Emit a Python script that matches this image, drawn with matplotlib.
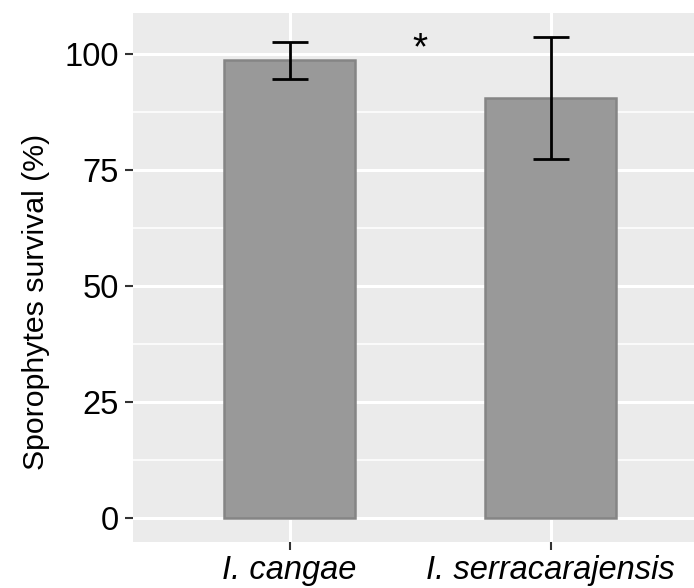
import matplotlib
matplotlib.use("Agg")
import matplotlib.pyplot as plt
import numpy as np

categories = ["I. cangae", "I. serracarajensis"]
means = [98.7, 90.6]
errors = [4.0, 13.15]
yticks = [0, 25, 50, 75, 100]
signif_label = "*"

plt.rcParams['font.family'] = ['Liberation Sans', 'DejaVu Sans']

fig = plt.figure(figsize=(6.94, 5.88), dpi=100)
W, H = 694, 588
left, right, top, bottom = 133, 694, 13, 542
ax = fig.add_axes([left / W, 1 - bottom / H, (right - left) / W, (bottom - top) / H])
ax.set_facecolor("#EBEBEB")

x = np.arange(1, len(categories) + 1)
ax.bar(x, means, width=0.5, color="#999999", edgecolor="#858585", linewidth=1.8, zorder=3)
ax.errorbar(x, means, yerr=errors, fmt="none", ecolor="black", elinewidth=2,
            capsize=13, capthick=2, zorder=4)
ax.text(1.5, 101.0, signif_label, ha="center", va="center", fontsize=28, zorder=5)

ax.set_xlim(0.4, 0.4 + (right - left) / 261.0)
ax.set_ylim(-5.19, 108.9)
ax.set_yticks(yticks)
ax.set_yticks([12.5, 37.5, 62.5, 87.5], minor=True)
ax.set_xticks(x)
ax.set_xticklabels(categories, fontstyle="italic")
ax.grid(True, which="major", color="white", linewidth=2.2, zorder=0)
ax.grid(True, which="minor", axis="y", color="white", linewidth=1.1, zorder=0)
ax.set_axisbelow(True)
for s in ax.spines.values():
    s.set_visible(False)
ax.tick_params(axis="both", which="major", length=6, width=1.5, color="#333333",
               labelsize=23.5, labelcolor="black")
ax.tick_params(axis="x", pad=3)
ax.tick_params(axis="y", pad=4)
ax.tick_params(axis="y", which="minor", length=0)
ax.set_ylabel("Sporophytes survival (%)", fontsize=21.8)
ax.yaxis.set_label_coords(-0.148, 0.454)

fig.savefig("out.png", dpi=100)
